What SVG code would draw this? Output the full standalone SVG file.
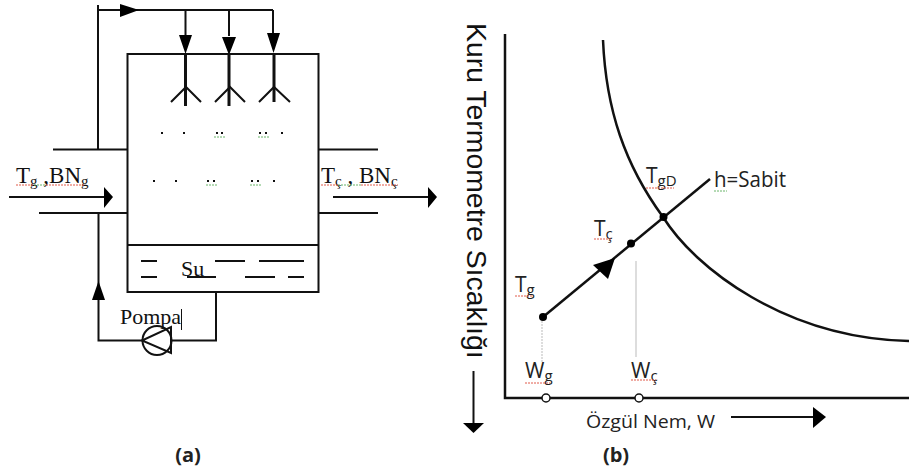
<svg xmlns="http://www.w3.org/2000/svg" width="909" height="475" viewBox="0 0 909 475">
<style>
.l{fill:none;stroke:#111;stroke-width:2}
.t{stroke:#111;stroke-width:3;fill:none}
.h{fill:#000;stroke:none}
.s{font-family:"Liberation Serif",serif;font-size:22px;fill:#111}
.c{font-family:"Open Sans","Noto Sans",sans-serif;font-size:21px;fill:#222}
.b{font-family:"Open Sans","Noto Sans",sans-serif;font-size:20px;font-weight:700;fill:#222}
.r{fill:none;stroke:#e05a4a;stroke-width:1;stroke-dasharray:2 1}
.g{fill:none;stroke:#6ab56a;stroke-width:1;stroke-dasharray:2 1}
.d{fill:#111}
</style>
<rect width="909" height="475" fill="#fff"/>
<g id="connectors">
<path class="l" d="M98 5V149M98 10H273M185.500 10V36M229 10V36M273 10V36"/>
<path class="h" d="M120 4L139 10L120 17ZM179 35H192L185.500 54ZM222 37H236L229 55ZM267 33H280L273.500 53Z"/>
<path class="l" d="M53 149.500H127M39 213H127M319 149.500H378M319 213H378"/>
<path class="l" d="M9 197H105M333 197H429"/>
<path class="h" d="M104 187L113 197L104 208ZM428 187L437 197L428 208Z"/>
<path class="l" d="M98.500 213V340.500H142M172 340.500H216V292"/>
<path class="h" d="M92 300L98.500 281L105 300Z"/>
</g>
<g id="tank">
<path class="l" d="M127.500 54H318.500V292H127.500ZM127.500 245H318.500"/>
<path class="l" d="M141 261H157M215 261H245M259 261H304M141 277H157M187 277H216M245 277H275M288 277H304" stroke-width="1.500"/>
<text class="s" x="181" y="276">Su</text>
</g>
<g id="nozzles">
<path class="t" d="M185.500 54V106M229 54V106M274 54V102"/>
<path class="l" d="M171 102L186 87L201 102M215 102L230 87L245 102M259 102L274 87L290 102"/>
</g>
<g id="droplets">
<path class="d" d="M161 132h2v2h-2zM183 132h2v2h-2zM216 132h2v2h-2zM221 132h2v2h-2zM259 132h2v2h-2zM265 132h2v2h-2zM281 132h2v2h-2zM153 180h2v2h-2zM175 180h2v2h-2zM207 180h2v2h-2zM213 180h2v2h-2zM251 180h2v2h-2zM257 180h2v2h-2zM273 180h2v2h-2z"/>
<path class="g" d="M214 137H225M258 137H269M206 185H217M250 185H261"/>
</g>
<g id="pump">
<circle class="l" cx="157" cy="340.500" r="14.500"/>
<path class="l" d="M171 327V353L142 340.500Z"/>
<text class="s" x="120" y="324">Pompa</text>
<path d="M181.500 309V330" stroke="#111" stroke-width="1"/>
</g>
<g id="label-in">
<text class="s" style="font-size:23px" x="16" y="183">T<tspan style="font-size:15px" dy="3">g</tspan><tspan dy="-3"> ,BN</tspan><tspan style="font-size:15px" dy="3">g</tspan></text>
<path class="r" d="M16 185H34M46 185H85"/><path class="g" d="M34 185H46"/>
</g>
<g id="label-out">
<text class="s" style="font-size:23px" x="321" y="183">T<tspan style="font-size:15px" dy="3">ç</tspan><tspan dy="-3"> , BN</tspan><tspan style="font-size:15px" dy="3">ç</tspan></text>
<path class="r" d="M321 185H338M361 185H398"/><path class="g" d="M338 185H361"/>
</g>
<text id="caption-a" class="b" x="188" y="462" text-anchor="middle">(a)</text>
<g id="chart-axes">
<path d="M505 34V398H909" fill="none" stroke="#111" stroke-width="2.500"/>
<path d="M473.500 371V424" stroke="#111" stroke-width="2" fill="none"/>
<path class="h" d="M463 423H484L473.500 433Z"/>
<path d="M731 417H814" stroke="#111" stroke-width="2" fill="none"/>
<path class="h" d="M813 407L826 417L813 428Z"/>
<text font-family="'Liberation Sans',Arial,sans-serif" font-size="28.400" fill="#111" transform="translate(467 23) rotate(90)">Kuru Termometre Sıcaklığı</text>
<text class="c" style="font-size:19px" x="586" y="428" textLength="129" lengthAdjust="spacingAndGlyphs">Özgül Nem, W</text>
</g>
<path id="saturation-curve" d="M603 40C606 110 625 165 663 217C695 268 785 338 909 341" fill="none" stroke="#111" stroke-width="2.500"/>
<g id="process-line">
<path d="M543 317L710 179" stroke="#111" stroke-width="2.500" fill="none"/>
<path class="h" d="M615 258L593 265L608 279Z"/>
<path d="M542 321V362" stroke="#bbb" stroke-width="1" stroke-dasharray="2 1" fill="none"/>
<path d="M636 261V357" stroke="#bbb" stroke-width="1" fill="none"/>
</g>
<g id="point-tg"><circle cx="543" cy="317" r="4" fill="#000"/><text class="c" x="515" y="292">T<tspan font-size="15" dy="3">g</tspan></text><path class="r" d="M515 296H533"/></g>
<g id="point-tc"><circle cx="631" cy="243.500" r="4" fill="#000"/><text class="c" x="594" y="236">T<tspan font-size="15" dy="3">ç</tspan></text><path class="r" d="M594 239H612"/></g>
<g id="point-tgd"><circle cx="663.500" cy="217" r="4" fill="#000"/><text class="c" x="646" y="183">T<tspan font-size="15" dy="3">gD</tspan></text><path class="r" d="M646 188H674"/></g>
<g id="label-h"><text class="c" x="714" y="187" textLength="72" lengthAdjust="spacingAndGlyphs">h=Sabit</text><path class="g" d="M714 191H727"/></g>
<g id="point-wg"><circle cx="546" cy="398" r="4" fill="#fff" stroke="#111" stroke-width="1.500"/><text class="c" x="525" y="378">W<tspan font-size="15" dy="3">g</tspan></text><path class="r" d="M525 383H550"/></g>
<g id="point-wc"><circle cx="639" cy="398" r="4" fill="#fff" stroke="#111" stroke-width="1.500"/><text class="c" x="631" y="378">W<tspan font-size="15" dy="3">ç</tspan></text><path class="r" d="M631 380H656"/></g>
<text id="caption-b" class="b" x="616" y="462" text-anchor="middle">(b)</text>
</svg>
